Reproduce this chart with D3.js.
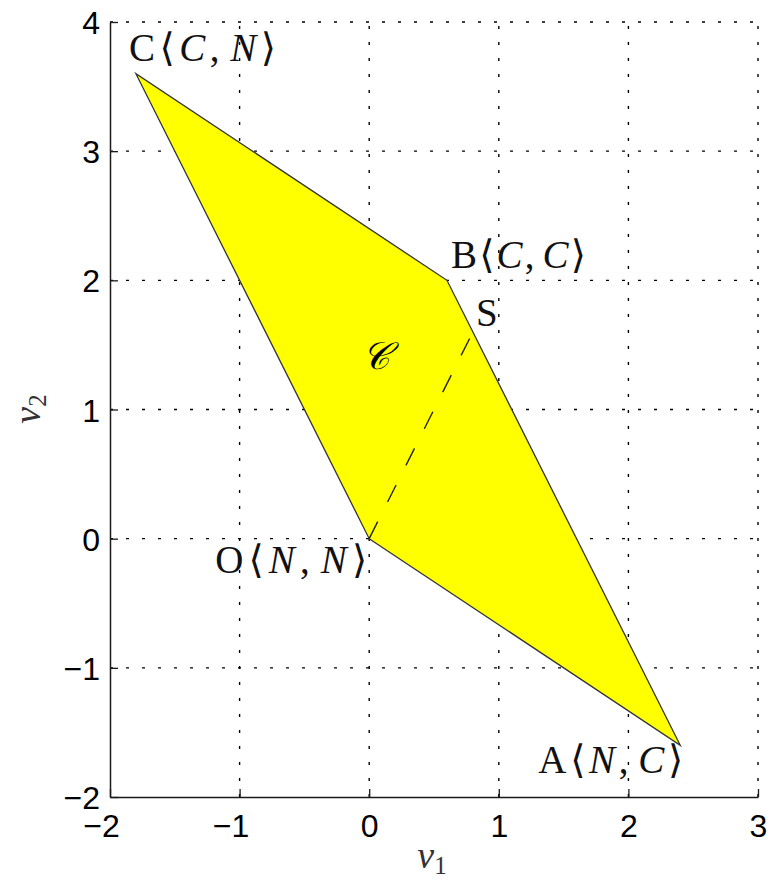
<!DOCTYPE html>
<html>
<head>
<meta charset="utf-8">
<script src="https://cdn.jsdelivr.net/npm/d3@7"></script>
<style>
  html, body { margin: 0; padding: 0; background: #fff; }
  svg { display: block; }
</style>
</head>
<body>
<svg id="chart" width="776" height="882"></svg>
<script>
// Vertices of the cooperation region, in order O, A, B, C
const vertexNames = ["O", "A", "B", "C"];
const v1Values = [0, 2.4, 0.6, -1.8];
const v2Values = [0, -1.6, 2.0, 3.6];
// Strategy pairs for each vertex
const firstMoves = ["N", "N", "C", "C"];
const secondMoves = ["N", "C", "C", "N"];
// Point S on edge AB, joined to O by a dashed segment
const splitPoint = { name: "S", v1: 0.8, v2: 1.6 };
// Position of the region name inside the polygon
const regionLabel = { text: "\u{1D49E}", v1: 0.05, v2: 1.42 };

const xTicks = [-2, -1, 0, 1, 2, 3];
const yTicks = [-2, -1, 0, 1, 2, 3, 4];

const svg = d3.select("#chart");
const margin = { left: 110, right: 18, top: 22, bottom: 85 };
const W = 776, H = 882;

const x = d3.scaleLinear().domain([-2, 3]).range([margin.left, W - margin.right]);
const y = d3.scaleLinear().domain([-2, 4]).range([H - margin.bottom, margin.top]);

const ink = "#1a1a1a";

// Dotted grid
const grid = svg.append("g");
grid.selectAll("line.gx").data(xTicks.slice(1)).join("line")
  .attr("x1", d => x(d)).attr("x2", d => x(d))
  .attr("y1", y(-2)).attr("y2", y(4))
  .attr("stroke", "#000").attr("stroke-width", 1.4)
  .attr("stroke-dasharray", "3,13");
grid.selectAll("line.gy").data(yTicks.slice(1)).join("line")
  .attr("x1", x(-2)).attr("x2", x(3))
  .attr("y1", d => y(d)).attr("y2", d => y(d))
  .attr("stroke", "#000").attr("stroke-width", 1.4)
  .attr("stroke-dasharray", "3,13");

// Region polygon
const pts = vertexNames.map((n, i) => [x(v1Values[i]), y(v2Values[i])]);
svg.append("path")
  .attr("d", d3.line()(pts) + "Z")
  .attr("fill", "#ffff00")
  .attr("stroke", "#333")
  .attr("stroke-width", 1.3)
  .attr("stroke-linejoin", "miter");

// Dashed segment O -> S
svg.append("line")
  .attr("x1", x(v1Values[0])).attr("y1", y(v2Values[0]))
  .attr("x2", x(splitPoint.v1)).attr("y2", y(splitPoint.v2))
  .attr("stroke", "#222").attr("stroke-width", 1.4)
  .attr("stroke-dasharray", "19,22");

// Axes (left and bottom only, ticks pointing inward)
const fmt = d => d < 0 ? "\u2212" + Math.abs(d) : String(d);
const xAxis = d3.axisBottom(x).tickValues(xTicks).tickSizeInner(-8).tickSizeOuter(0).tickFormat(fmt);
const yAxis = d3.axisLeft(y).tickValues(yTicks).tickSizeInner(-8).tickSizeOuter(0).tickFormat(fmt);

const gx = svg.append("g").attr("transform", `translate(0,${y(-2)})`).call(xAxis);
const gy = svg.append("g").attr("transform", `translate(${x(-2)},0)`).call(yAxis);
[gx, gy].forEach(g => {
  g.select(".domain").attr("stroke", ink).attr("stroke-width", 1.5);
  g.selectAll(".tick line").attr("stroke", ink).attr("stroke-width", 1.3);
  g.selectAll(".tick text")
    .attr("fill", "#000")
    .style("font-family", "'Liberation Sans', Arial, sans-serif")
    .style("font-size", "32px");
});
// digits sit centred on the tick, minus sign hangs to the left
gx.selectAll(".tick text").attr("y", 17).attr("dy", "0.71em")
  .attr("dx", d => d < 0 ? -9 : 0);
gy.selectAll(".tick text").attr("x", -10).attr("dy", "0.36em");

// Axis titles
const serif = "'Liberation Serif', 'DejaVu Serif', serif";
const xt = svg.append("text")
  .attr("x", 432).attr("y", 868).attr("text-anchor", "middle")
  .style("font-family", serif).style("font-size", "38px").attr("fill", "#333");
xt.append("tspan").style("font-style", "italic").text("v");
xt.append("tspan").attr("dy", 6).style("font-size", "25px").text("1");

const yt = svg.append("text")
  .attr("transform", "translate(40,409) rotate(-90)")
  .attr("text-anchor", "middle")
  .style("font-family", serif).style("font-size", "38px").attr("fill", "#333");
yt.append("tspan").style("font-style", "italic").text("v");
yt.append("tspan").attr("dy", 6).style("font-size", "25px").text("2");

// Vertex labels: name followed by the strategy pair in angle brackets
const labelOffsets = [
  { dx: -2, dy: 34, anchor: "end", len: 152 },
  { dx: 3, dy: 28, anchor: "end", len: 145 },
  { dx: 4, dy: -12, anchor: "start", len: 135 },
  { dx: -7, dy: -13, anchor: "start", len: 147 }
];
vertexNames.forEach((name, i) => {
  const o = labelOffsets[i];
  const t = svg.append("text")
    .attr("x", x(v1Values[i]) + o.dx)
    .attr("y", y(v2Values[i]) + o.dy)
    .attr("text-anchor", o.anchor)
    .attr("textLength", o.len)
    .attr("lengthAdjust", "spacing")
    .style("font-family", serif).style("font-size", "39px").attr("fill", "#111");
  t.append("tspan").text(name);
  t.append("tspan").text("\u27E8");
  t.append("tspan").style("font-style", "italic").text(firstMoves[i]);
  t.append("tspan").text(",");
  t.append("tspan").attr("dx", 6).style("font-style", "italic").text(secondMoves[i]);
  t.append("tspan").text("\u27E9");
});

svg.append("text")
  .attr("x", x(splitPoint.v1) + 3).attr("y", y(splitPoint.v2) - 6)
  .style("font-family", serif).style("font-size", "39px").attr("fill", "#111")
  .text(splitPoint.name);

svg.append("text")
  .attr("x", x(regionLabel.v1)).attr("y", y(regionLabel.v2))
  .attr("text-anchor", "middle").attr("dy", "0.35em")
  .style("font-family", "'DejaVu Serif', serif").style("font-size", "38px")
  .style("font-style", "italic").attr("fill", "#000")
  .text(regionLabel.text);
</script>
</body>
</html>
